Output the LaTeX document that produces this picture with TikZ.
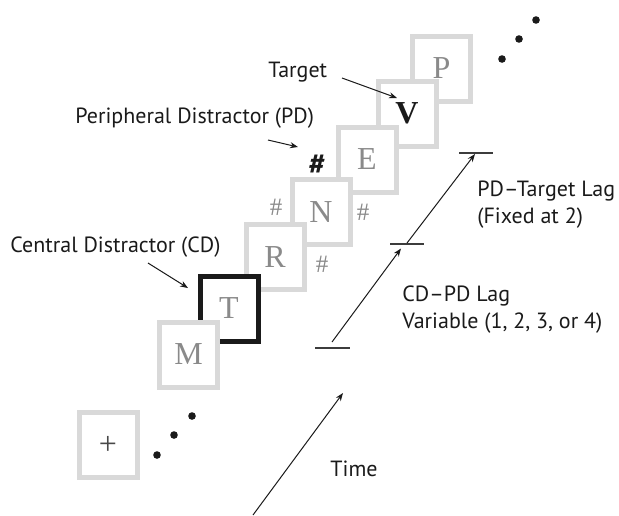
\documentclass[tikz,border=0pt]{standalone}
\usepackage{fontspec}
\setmainfont{Liberation Serif}
\setsansfont{PT Sans}
\usetikzlibrary{arrows.meta,positioning}
\definecolor{framegray}{HTML}{D9D9D9}
\definecolor{lettergray}{HTML}{8A8A8A}
\definecolor{inkblack}{HTML}{1A1A1A}

\begin{document}
\begin{tikzpicture}[
    x=0.5pt, y=-0.5pt,
    frame/.style={rectangle, draw=framegray, fill=white, line width=2.5pt,
                  minimum width=29pt, minimum height=32.5pt, inner sep=0pt,
                  font=\fontsize{16}{17}\selectfont\rmfamily, text=lettergray},
    critical/.style={frame, draw=inkblack},
    hashmark/.style={font=\fontsize{12.5}{13}\selectfont\rmfamily, text=lettergray, inner sep=0pt},
    lbl/.style={font=\fontsize{11}{13.5}\selectfont\sffamily, text=inkblack, anchor=west,
                align=left, inner sep=0pt},
    arrow/.style={-{Stealth[length=4pt,width=3pt]}, line width=0.5pt, color=inkblack},
    tick/.style={line width=0.7pt, color=inkblack!85},
    dot/.style={circle, fill=inkblack, inner sep=0pt, minimum size=3.8pt},
]
\useasboundingbox (0,0) rectangle (619,515);

% ── Stimulus frames (later frames first, earlier ones lie on top) ─────────
\node[frame]    (fP)    at (441.5, 68.5) {P};
\node[frame, text=inkblack, font=\fontsize{16}{17}\selectfont\rmfamily\bfseries]
                (fV)    at (407, 113.5)  {V};
\node[frame]    (fE)    at (367, 159.5)  {E};
\node[frame]    (fN)    at (321, 212)    {N};
\node[frame]    (fR)    at (275, 257)    {R};
\node[critical] (fT)    at (229, 308.5)  {T};
\node[frame]    (fM)    at (188.5, 354.5) {M};
\node[frame, text=inkblack!80] (fix) at (108, 445) {+};

% ── Peripheral distractor marks ───────────────────────────────────────────
\node[hashmark] (hashL)  at (276, 207) {\#};
\node[hashmark] (hashR)  at (363, 212) {\#};
\node[hashmark] (hashLo) at (322, 264) {\#};
\node[font=\fontsize{15}{16}\selectfont\sffamily\bfseries, text=inkblack, inner sep=0pt]
                (hashPD) at (317, 165) {\#};

% ── Ellipsis dots ─────────────────────────────────────────────────────────
\node[dot] (d1) at (157, 455) {};
\node[dot] (d2) at (174, 435) {};
\node[dot] (d3) at (192, 416) {};
\node[dot] (d4) at (502, 59)  {};
\node[dot] (d5) at (519, 39)  {};
\node[dot] (d6) at (536, 20)  {};

% ── Labels ────────────────────────────────────────────────────────────────
\node[lbl] (target) at (268, 72)  {Target};
\node[lbl] (pd)     at (75, 118)  {Peripheral Distractor (PD)};
\node[lbl] (cd)     at (10, 247)  {Central Distractor (CD)};
\node[lbl] (lagPT)  at (477, 205) {PD–Target Lag\\(Fixed at 2)};
\node[lbl] (lagCP)  at (402, 310) {CD–PD Lag\\Variable (1, 2, 3, or 4)};
\node[lbl] (time)   at (330, 469) {Time};

% ── Label pointers ────────────────────────────────────────────────────────
\coordinate (tgtFrom) at (342, 78);
\coordinate (tgtTo)   at (397, 98);
\coordinate (pdFrom)  at (268, 140);
\coordinate (pdTo)    at (298, 147);
\coordinate (cdFrom)  at (148, 263);
\coordinate (cdTo)    at (188, 288);
\draw[arrow] (tgtFrom) -- (tgtTo);
\draw[arrow] (pdFrom)  -- (pdTo);
\draw[arrow] (cdFrom)  -- (cdTo);

% ── Lag ticks and time axis ───────────────────────────────────────────────
\coordinate (tickCD) at (332.5, 348);
\coordinate (tickPD) at (407, 244);
\coordinate (tickT)  at (476, 153);
\draw[tick] ([xshift=-8.75pt]tickCD) -- ([xshift=8.75pt]tickCD);
\draw[tick] ([xshift=-8.5pt]tickPD)  -- ([xshift=8.5pt]tickPD);
\draw[tick] ([xshift=-8.5pt]tickT)   -- ([xshift=8.5pt]tickT);
\draw[arrow] (332, 342) -- (401, 248.5);
\draw[arrow] (407, 243) -- (475, 154);

\coordinate (timeFrom) at (253, 515);
\coordinate (timeTo)   at (343, 393);
\draw[arrow] (timeFrom) -- (timeTo);

\end{tikzpicture}
\end{document}
